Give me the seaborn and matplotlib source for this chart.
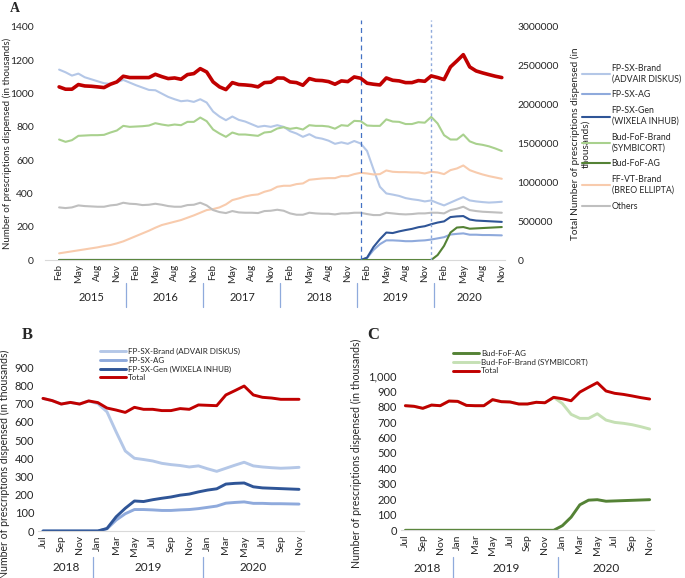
import numpy as np
import pandas as pd
import matplotlib
matplotlib.use('Agg')
import matplotlib.pyplot as plt
import matplotlib.transforms as mtransforms
from matplotlib.ticker import StrMethodFormatter
import seaborn as sns

# ---- panel A: monthly, Feb 2015 - Nov 2020 (thousands) ----
a_fp_brand = [1144, 1128, 1108, 1120, 1098, 1086, 1074, 1062, 1058, 1068,
              1082, 1066, 1050, 1036, 1022, 1020, 1000, 980, 966, 954,
              958, 950, 966, 946, 892, 862, 840, 862, 842, 832,
              816, 800, 806, 800, 810, 800, 774, 760, 740, 756,
              736, 729, 717, 698, 707, 698, 715, 700, 655, 545,
              440, 400, 393, 385, 372, 365, 360, 352, 358, 342,
              328, 345, 362, 378, 358, 352, 348, 345, 347, 350]
a_fp_ag = [0, 0, 0, 0, 0, 0, 0, 0, 0, 0,
           0, 0, 0, 0, 0, 0, 0, 0, 0, 0,
           0, 0, 0, 0, 0, 0, 0, 0, 0, 0,
           0, 0, 0, 0, 0, 0, 0, 0, 0, 0,
           0, 0, 0, 0, 0, 0, 0, 0, 12, 60,
           95, 118, 118, 116, 113, 113, 116, 118, 123, 130,
           137, 153, 157, 160, 152, 152, 150, 150, 149, 148]
a_fp_gen = [0, 0, 0, 0, 0, 0, 0, 0, 0, 0,
            0, 0, 0, 0, 0, 0, 0, 0, 0, 0,
            0, 0, 0, 0, 0, 0, 0, 0, 0, 0,
            0, 0, 0, 0, 0, 0, 0, 0, 0, 0,
            0, 0, 0, 0, 0, 0, 0, 0, 14, 78,
            125, 165, 162, 172, 180, 187, 197, 203, 215, 225,
            232, 258, 262, 264, 243, 237, 235, 233, 231, 229]
a_bud_brand = [724, 710, 720, 746, 748, 750, 750, 752, 766, 778,
               806, 800, 802, 804, 808, 822, 814, 808, 814, 810,
               830, 830, 856, 834, 784, 760, 740, 766, 754, 754,
               750, 746, 766, 770, 790, 798, 788, 794, 784, 810,
               806, 806, 802, 789, 810, 806, 836, 834, 808, 806,
               806, 845, 832, 830, 817, 817, 828, 825, 860, 820,
               750, 724, 724, 754, 713, 698, 692, 683, 670, 655]
a_bud_ag = [0, 0, 0, 0, 0, 0, 0, 0, 0, 0,
            0, 0, 0, 0, 0, 0, 0, 0, 0, 0,
            0, 0, 0, 0, 0, 0, 0, 0, 0, 0,
            0, 0, 0, 0, 0, 0, 0, 0, 0, 0,
            0, 0, 0, 0, 0, 0, 0, 0, 0, 0,
            0, 0, 0, 0, 0, 0, 0, 0, 0, 30,
            85, 165, 195, 198, 188, 190, 192, 194, 196, 198]
a_ffvt = [40, 46, 52, 58, 64, 70, 76, 84, 90, 100,
          112, 128, 144, 160, 176, 194, 210, 220, 230, 240,
          254, 268, 284, 300, 306, 316, 334, 360, 370, 382,
          390, 394, 410, 420, 440, 446, 446, 456, 460, 482,
          486, 490, 492, 492, 504, 504, 516, 524, 520, 514,
          516, 538, 530, 528, 528, 526, 526, 520, 530, 526,
          516, 540, 550, 568, 540, 526, 514, 504, 496, 488]
a_others = [316, 312, 316, 328, 324, 322, 320, 320, 328, 332,
            344, 338, 336, 330, 332, 338, 332, 324, 320, 320,
            330, 332, 344, 328, 300, 288, 282, 294, 286, 284,
            284, 282, 294, 296, 302, 296, 280, 272, 272, 284,
            280, 278, 278, 274, 280, 280, 284, 284, 276, 270,
            270, 284, 280, 276, 274, 276, 280, 280, 284, 284,
            280, 300, 308, 320, 300, 294, 290, 288, 286, 284]
# total on the secondary axis
a_total = [2229000, 2199000, 2199000, 2259000, 2241000, 2237000, 2229000, 2220000, 2263000, 2293000,
           2366000, 2349000, 2349000, 2349000, 2349000, 2391000, 2361000, 2336000, 2344000, 2327000,
           2387000, 2400000, 2464000, 2421000, 2293000, 2229000, 2194000, 2284000, 2259000, 2254000,
           2246000, 2229000, 2284000, 2289000, 2344000, 2342000, 2293000, 2284000, 2250000, 2336000,
           2314000, 2310000, 2297000, 2263000, 2306000, 2297000, 2357000, 2340000, 2276000, 2263000,
           2254000, 2344000, 2314000, 2306000, 2284000, 2284000, 2310000, 2301000, 2370000, 2349000,
           2323000, 2486000, 2563000, 2644000, 2486000, 2434000, 2409000, 2387000, 2366000, 2349000]

# ---- panels B and C: Jul 2018 - Nov 2020 ----
b_brand = [729, 717, 698, 707, 698, 715, 700, 655, 545, 440, 400, 393, 385, 372, 365,
           360, 352, 358, 342, 328, 345, 362, 378, 358, 352, 348, 345, 347, 350]
b_ag = [0, 0, 0, 0, 0, 0, 0, 12, 60, 95, 118, 118, 116, 113, 113,
        116, 118, 123, 130, 137, 153, 157, 160, 152, 152, 150, 150, 149, 148]
b_gen = [0, 0, 0, 0, 0, 0, 0, 14, 78, 125, 165, 162, 172, 180, 187,
         197, 203, 215, 225, 232, 258, 262, 264, 243, 237, 235, 233, 231, 229]
b_total = [729, 717, 698, 707, 698, 715, 706, 676, 665, 652, 680, 669, 669, 662, 662,
           673, 669, 693, 691, 689, 748, 772, 797, 748, 735, 731, 724, 724, 724]

c_ag = [0, 0, 0, 0, 0, 0, 0, 0, 0, 0, 0, 0, 0, 0, 0,
        0, 0, 0, 30, 85, 165, 195, 198, 188, 190, 192, 194, 196, 198]
c_brand = [806, 802, 789, 810, 806, 836, 834, 808, 806, 806, 845, 832, 830, 817, 817,
           828, 825, 860, 820, 750, 724, 724, 754, 713, 698, 692, 683, 670, 655]
c_total = [806, 802, 789, 810, 806, 836, 834, 808, 806, 806, 845, 832, 830, 817, 817,
           828, 825, 860, 851, 838, 894, 925, 955, 901, 886, 879, 869, 858, 849]

months_a = pd.date_range('2015-02-01', '2020-11-01', freq='MS')
months_bc = pd.date_range('2018-07-01', '2020-11-01', freq='MS')

sns.set_style('white')
plt.rcParams['font.family'] = ['Lato', 'DejaVu Sans']
plt.rcParams['text.color'] = '#262626'
plt.rcParams['axes.labelcolor'] = '#262626'
plt.rcParams['xtick.color'] = '#262626'
plt.rcParams['ytick.color'] = '#262626'

W, H = 685, 578
fig = plt.figure(figsize=(W / 100, H / 100), dpi=100)


def box(l, t, r, b):
    return [l / W, 1 - b / H, (r - l) / W, (b - t) / H]


def month_axis(ax, months, step, year_y, sep0, sep1, fs_m, fs_y):
    x = np.arange(len(months))
    ticks = x[::step]
    ax.set_xticks(ticks)
    ax.set_xticklabels([months[i].strftime('%b') for i in ticks], rotation=90, fontsize=fs_m)
    ax.tick_params(axis='x', length=0, pad=3)
    trans = mtransforms.blended_transform_factory(ax.transData, ax.transAxes)
    years = np.array(months.year)
    for k, yr in enumerate(np.unique(years)):
        idx = np.where(years == yr)[0]
        ax.text((idx[0] + idx[-1]) / 2, year_y, str(yr), transform=trans,
                ha='center', va='center', fontsize=fs_y)
        if k > 0:
            ax.axvline(idx[0] - 0.5, ymin=sep0, ymax=sep1, color='#8FAADC',
                       lw=0.9, clip_on=False)


def clean(ax):
    for s in ['top', 'left', 'right']:
        ax.spines[s].set_visible(False)
    ax.spines['bottom'].set_color('#D9D9D9')
    ax.tick_params(axis='y', length=0)


# ================= Panel A =================
axA = fig.add_axes(box(45, 27, 505, 260))
xa = np.arange(len(months_a))
series_a = [
    ('FP-SX-Brand\n(ADVAIR DISKUS)', a_fp_brand, '#B4C7E7'),
    ('FP-SX-AG', a_fp_ag, '#8FAADC'),
    ('FP-SX-Gen\n(WIXELA INHUB)', a_fp_gen, '#2F5597'),
    ('Bud-FoF-Brand\n(SYMBICORT)', a_bud_brand, '#A9D18E'),
    ('Bud-FoF-AG', a_bud_ag, '#548235'),
    ('FF-VT-Brand\n(BREO ELLIPTA)', a_ffvt, '#F8CBAD'),
    ('Others', a_others, '#BFBFBF'),
]
for lab, vals, col in series_a:
    sns.lineplot(x=xa, y=vals, ax=axA, color=col, lw=1.5, label=lab, legend=False)
axA.set_xlim(-2.2, 69.5)
axA.set_ylim(0, 1400)
axA.set_yticks(range(0, 1401, 200))
axA.tick_params(axis='y', labelsize=7.5, pad=8)
axA.set_ylabel('Number of prescriptions dispensed (in thousands)', fontsize=7)
axA.yaxis.set_label_coords(-0.071, 0.5)
clean(axA)
month_axis(axA, months_a, 3, -0.163, -0.20, -0.10, 7, 8)
axA.axvline(47, ymin=0, ymax=1.03, color='#4472C4', lw=0.9, ls=(0, (4, 3)), clip_on=False)
axA.axvline(58, ymin=0, ymax=1.03, color='#8FAADC', lw=1.0, ls=(0, (2, 2)), clip_on=False)

axA2 = axA.twinx()
sns.lineplot(x=xa, y=a_total, ax=axA2, color='#C00000', lw=2.6, legend=False)
axA2.set_xlim(-2.2, 69.5)
axA2.set_ylim(0, 3000000)
axA2.set_yticks(range(0, 3000001, 500000))
axA2.yaxis.set_major_formatter(StrMethodFormatter('{x:.0f}'))
axA2.tick_params(axis='y', labelsize=7.5, pad=9, length=0)
for s in axA2.spines.values():
    s.set_visible(False)
axA2.set_ylabel('Total Number of prescriptions dispensed (in\nthousands)', fontsize=7.2,
                linespacing=1.1, ha='center')
axA2.yaxis.set_label_coords(1.143, 0.5)

hA, lA = axA.get_legend_handles_labels()
fig.legend(hA, lA, loc='upper left', bbox_to_anchor=(582 / W, 1 - 64 / H), frameon=False,
           fontsize=6.3, handlelength=3.2, handletextpad=0.2, labelspacing=0.8,
           borderpad=0, borderaxespad=0)
fig.text(10 / W, 1 - 9 / H, 'A', fontsize=10, fontweight='bold',
         family=['Liberation Serif', 'DejaVu Serif'], va='center')

# ================= Panel B =================
axB = fig.add_axes(box(38.4, 367.3, 303.6, 531))
xb = np.arange(len(months_bc))
for lab, vals, col in [('FP-SX-Brand (ADVAIR DISKUS)', b_brand, '#B4C7E7'),
                       ('FP-SX-AG', b_ag, '#8FAADC'),
                       ('FP-SX-Gen (WIXELA INHUB)', b_gen, '#2F5597'),
                       ('Total', b_total, '#C00000')]:
    sns.lineplot(x=xb, y=vals, ax=axB, color=col, lw=2.1, label=lab, legend=False)
axB.set_xlim(-0.5, 28.5)
axB.set_ylim(0, 900)
axB.set_yticks(range(0, 901, 100))
axB.tick_params(axis='y', labelsize=8, pad=3)
axB.set_ylabel('Number of prescriptions dispensed (in thousands)', fontsize=7.6)
axB.yaxis.set_label_coords(-0.108, 0.41)
clean(axB)
month_axis(axB, months_bc, 2, -0.22, -0.29, -0.16, 7.5, 8.5)
hB, lB = axB.get_legend_handles_labels()
fig.legend(hB, lB, loc='upper left', bbox_to_anchor=(100 / W, 1 - 348 / H), frameon=False,
           fontsize=5.8, handlelength=3.2, handletextpad=0.3, labelspacing=0.2,
           borderpad=0, borderaxespad=0)
fig.text(22 / W, 1 - 335 / H, 'B', fontsize=12, fontweight='bold',
         family=['Liberation Serif', 'DejaVu Serif'], va='center')

# ================= Panel C =================
axC = fig.add_axes(box(401, 375.7, 654, 530.3))
for lab, vals, col in [('Bud-FoF-AG', c_ag, '#548235'),
                       ('Bud-FoF-Brand (SYMBICORT)', c_brand, '#C5E0B4'),
                       ('Total', c_total, '#C00000')]:
    sns.lineplot(x=xb, y=vals, ax=axC, color=col, lw=2.1, label=lab, legend=False)
axC.set_xlim(-0.5, 28.5)
axC.set_ylim(0, 1000)
axC.set_yticks(range(0, 1001, 100))
axC.yaxis.set_major_formatter(StrMethodFormatter('{x:,.0f}'))
axC.tick_params(axis='y', labelsize=8, pad=3)
axC.set_ylabel('Number of prescriptions dispensed (in thousands)', fontsize=7.6)
axC.yaxis.set_label_coords(-0.154, 0.5)
clean(axC)
month_axis(axC, months_bc, 2, -0.244, -0.31, -0.17, 7.5, 8.5)
hC, lC = axC.get_legend_handles_labels()
fig.legend(hC, lC, loc='upper left', bbox_to_anchor=(453 / W, 1 - 350 / H), frameon=False,
           fontsize=5.8, handlelength=3.2, handletextpad=0.3, labelspacing=0.2,
           borderpad=0, borderaxespad=0)
fig.text(367 / W, 1 - 335 / H, 'C', fontsize=12, fontweight='bold',
         family=['Liberation Serif', 'DejaVu Serif'], va='center')

fig.savefig('out.png', dpi=100)
